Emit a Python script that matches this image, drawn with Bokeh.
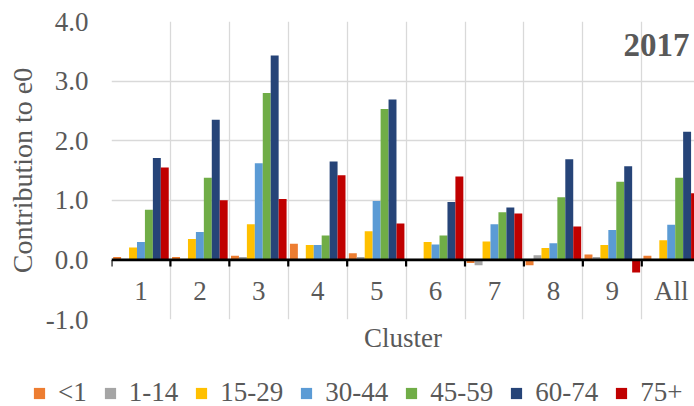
import numpy as np
from bokeh.plotting import figure
from bokeh.layouts import column
from bokeh.models import (ColumnDataSource, FixedTicker, PrintfTickFormatter, Span,
                          Label, Legend, LegendItem, Range1d)
from bokeh.core.properties import value
from bokeh.embed import file_html
from bokeh.resources import INLINE

# ---- data ----
clusters = ["1", "2", "3", "4", "5", "6", "7", "8", "9", "All"]
age_groups = ["<1", "1-14", "15-29", "30-44", "45-59", "60-74", "75+"]
colors = ["#ED7D31", "#A5A5A5", "#FFC000", "#5B9BD5", "#70AD47", "#264478", "#C00000"]

v_lt1 = [0.05, 0.05, 0.07, 0.27, 0.11, 0.00, -0.05, -0.09, 0.09, 0.07]
v_1_14 = [0.00, 0.00, 0.05, 0.00, 0.05, 0.00, -0.09, 0.08, 0.05, 0.00]
v_15_29 = [0.21, 0.35, 0.60, 0.25, 0.48, 0.30, 0.31, 0.20, 0.25, 0.33]
v_30_44 = [0.30, 0.47, 1.62, 0.25, 0.99, 0.26, 0.60, 0.28, 0.50, 0.59]
v_45_59 = [0.84, 1.38, 2.80, 0.41, 2.53, 0.41, 0.80, 1.05, 1.31, 1.38]
v_60_74 = [1.71, 2.35, 3.43, 1.65, 2.69, 0.97, 0.88, 1.69, 1.57, 2.15]
v_75p = [1.55, 1.00, 1.02, 1.42, 0.61, 1.40, 0.78, 0.56, -0.21, 1.12]
series = [v_lt1, v_1_14, v_15_29, v_30_44, v_45_59, v_60_74, v_75p]

y_ticks = [-1, 0, 1, 2, 3, 4]
year_label = "2017"
x_title = "Cluster"
y_title = "Contribution to e0"

FONT = "Liberation Serif"
TXT = "#595959"
GRID = "#D9D9D9"

n = len(clusters)
ng = len(age_groups)
bar_w = 1.0 / (ng + 0.42)

p = figure(width=694, height=366, output_backend="svg", toolbar_location=None,
           x_range=Range1d(0, 9.895), y_range=Range1d(-1, 4),
           min_border_left=111, min_border_right=0, min_border_top=21, min_border_bottom=47)
p.outline_line_color = None
p.background_fill_color = "white"
p.border_fill_color = "white"

# grids
p.xgrid.ticker = FixedTicker(ticks=list(range(n + 1)))
p.ygrid.ticker = FixedTicker(ticks=y_ticks)
for g in (p.xgrid, p.ygrid):
    g.grid_line_color = GRID
    g.grid_line_width = 1.3

# x axis: only carries the title
xa = p.xaxis[0]
xa.ticker = FixedTicker(ticks=[])
xa.axis_line_color = None
xa.major_tick_line_color = None
xa.minor_tick_line_color = None
xa.major_tick_out = 0
xa.major_tick_in = 0
xa.major_label_standoff = 0
xa.axis_label = x_title
xa.axis_label_text_font = FONT
xa.axis_label_text_font_size = "27px"
xa.axis_label_text_font_style = "normal"
xa.axis_label_text_color = TXT
xa.axis_label_standoff = 3

# y axis
ya = p.yaxis[0]
ya.ticker = FixedTicker(ticks=y_ticks)
ya.formatter = PrintfTickFormatter(format="%.1f")
ya.axis_line_color = None
ya.major_tick_line_color = None
ya.minor_tick_line_color = None
ya.major_tick_out = 0
ya.major_tick_in = 0
ya.major_label_standoff = 23
ya.major_label_text_font = FONT
ya.major_label_text_font_size = "27px"
ya.major_label_text_color = TXT
ya.axis_label = y_title
ya.axis_label_text_font = FONT
ya.axis_label_text_font_size = "28px"
ya.axis_label_text_font_style = "normal"
ya.axis_label_text_color = TXT
ya.axis_label_standoff = 5

# bars
idx = np.arange(n)
for j, (name, vals, col) in enumerate(zip(age_groups, series, colors)):
    src = ColumnDataSource(dict(x=idx + 0.5 + (j - (ng - 1) / 2) * bar_w, top=vals,
                                cluster=clusters))
    p.vbar(x="x", top="top", bottom=0, width=bar_w, source=src,
           fill_color=col, line_color=None)

# horizontal category axis at zero
p.add_layout(Span(location=0, dimension="width", line_color="black", line_width=2.7))
bounds = np.arange(n + 1)
p.segment(x0=bounds, y0=np.zeros(n + 1), x1=bounds, y1=np.full(n + 1, -0.11),
          line_color="black", line_width=2.2)

# category labels
p.text(x=idx + 0.5, y=np.full(n, -0.53), text=clusters, text_align="center",
       text_baseline="middle", text_font=value(FONT), text_font_size="27px",
       text_color=TXT)

# year label
p.add_layout(Label(x=9.81, y=3.61, text=year_label, text_align="right",
                   text_baseline="middle", text_font=FONT, text_font_size="33px",
                   text_font_style="bold", text_color=TXT))

# ---- legend strip ----
q = figure(width=694, height=40, output_backend="svg", toolbar_location=None,
           x_range=Range1d(0, 1), y_range=Range1d(0, 1),
           x_axis_location=None, y_axis_location=None,
           min_border_left=0, min_border_right=0, min_border_top=0, min_border_bottom=0)
if "frame_align" in q.properties():
    q.frame_align = False
    p.frame_align = False
q.outline_line_color = None
q.xgrid.visible = False
q.ygrid.visible = False
q.background_fill_color = "white"
q.border_fill_color = "white"
items = []
for name, col in zip(age_groups, colors):
    proxy = ColumnDataSource(dict(x=[0.0], top=[0.0], group=[name]))
    r = q.vbar(x="x", top="top", bottom=0, width=0, source=proxy,
               fill_color=col, line_color=None)
    items.append(LegendItem(label=name, renderers=[r]))
legend = Legend(items=items, orientation="horizontal", location=(32, -2),
                glyph_width=14, glyph_height=14, label_standoff=12, spacing=16,
                padding=0, margin=0, border_line_color=None, background_fill_alpha=0,
                label_text_font=FONT, label_text_font_size="27px", label_text_color=TXT)
q.add_layout(legend)

layout = column(p, q, spacing=0)
open("out.html", "w").write(file_html(layout, INLINE))
